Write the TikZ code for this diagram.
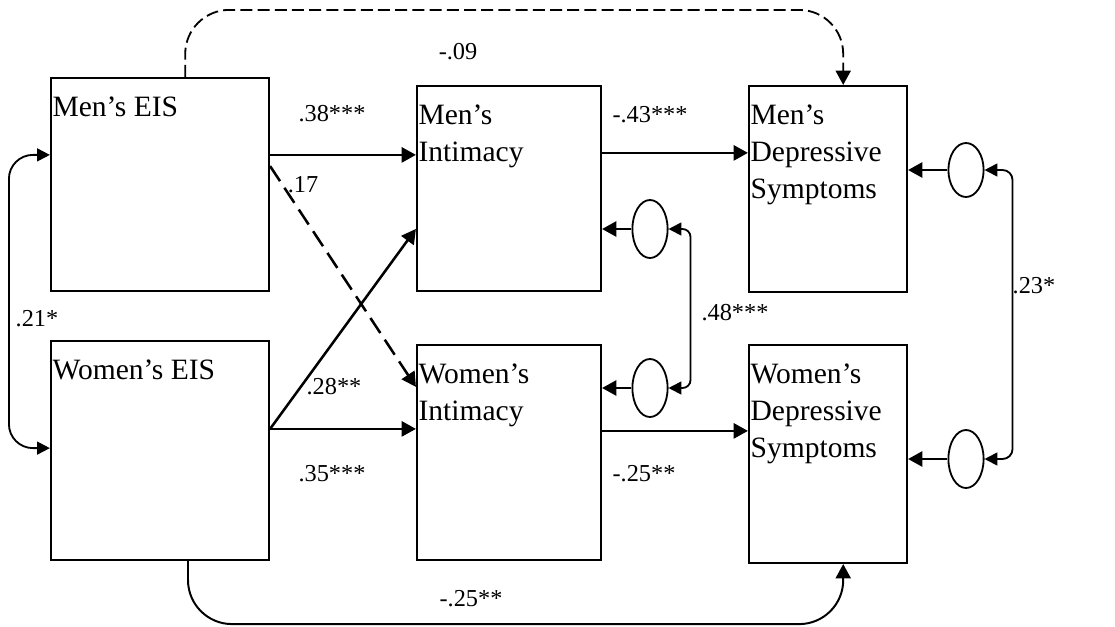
\documentclass[tikz,border=0pt]{standalone}
\usepackage{fontspec}
\setmainfont{Liberation Serif}
\usetikzlibrary{arrows.meta,positioning,shapes.geometric}

\begin{document}
\begin{tikzpicture}[
  x=0.025cm, y=-0.025cm,
  box/.style={rectangle, draw, line width=1.5pt, inner sep=0pt},
  boxtext/.style={anchor=north west, align=left, inner xsep=0.06cm, inner ysep=0.48cm,
                  font=\fontsize{21}{26.3}\selectfont},
  err/.style={ellipse, draw, line width=1.3pt, minimum width=0.88cm,
              minimum height=1.45cm, inner sep=0pt},
  coef/.style={font=\fontsize{17.3}{20}\selectfont, inner sep=0pt},
  arr/.style={-{Triangle[length=0.36cm, width=0.38cm]}, line width=1.8pt},
  dbl/.style={{Triangle[length=0.32cm, width=0.32cm]}-{Triangle[length=0.32cm, width=0.32cm]},
              line width=1.3pt},
  ns/.style={dash pattern=on 0.45cm off 0.2cm}
]
\useasboundingbox (0,0) rectangle (1115,626);

% observed variables
\node[box, minimum width=5.45cm, minimum height=5.325cm] (meis) at (160,184.5) {};
\node[box, minimum width=5.45cm, minimum height=5.475cm] (weis) at (160,450.5) {};
\node[box, minimum width=4.6cm,  minimum height=5.125cm] (mint) at (509,188.5) {};
\node[box, minimum width=4.6cm,  minimum height=5.375cm] (wint) at (509,452.5) {};
\node[box, minimum width=3.95cm, minimum height=5.15cm]  (mdep) at (828,189) {};
\node[box, minimum width=3.95cm, minimum height=5.45cm]  (wdep) at (828,454) {};

\node[boxtext] (meis-t) at (meis.north west) {Men's EIS};
\node[boxtext] (weis-t) at (weis.north west) {Women's EIS};
\node[boxtext] (mint-t) at (mint.north west) {Men's\\Intimacy};
\node[boxtext] (wint-t) at (wint.north west) {Women's\\Intimacy};
\node[boxtext] (mdep-t) at (mdep.north west) {Men's\\Depressive\\Symptoms};
\node[boxtext] (wdep-t) at (wdep.north west) {Women's\\Depressive\\Symptoms};

% residuals
\node[err] (emi) at (650,229) {};
\node[err] (ewi) at (650,388) {};
\node[err, minimum height=1.35cm] (emd) at (966,170) {};
\node[err] (ewd) at (966,459) {};

\draw[arr] (emi) -- (emi -| mint.east);
\draw[arr] (ewi) -- (ewi -| wint.east);
\draw[arr] (emd) -- (emd -| mdep.east);
\draw[arr] (ewd) -- (ewd -| wdep.east);

% covariances
\draw[dbl, rounded corners=0.2cm] (emi.east) -- ++(22,0) |- (ewi.east);
\draw[dbl, rounded corners=0.25cm] (emd.east) -- ++(28,0) |- (ewd.east);
\coordinate (c1) at ([yshift=0.74cm]meis.west);
\draw[dbl, rounded corners=0.6cm] (c1) -- ++(-41,0) |- ([yshift=0.06cm]weis.west);

% paths
\coordinate (p1) at ([yshift=0.74cm]meis.east);
\coordinate (p2) at ([yshift=0.46cm]meis.east);
\coordinate (p3) at ([yshift=0.54cm]weis.east);
\coordinate (p4) at ([yshift=0.89cm]mint.east);
\coordinate (p5) at ([yshift=0.54cm]wint.east);
\draw[arr] (p1) -- (p1 -| mint.west);
\draw[arr, ns] (p2) -- ([yshift=1.64cm]wint.west);
\draw[arr] (p3) -- ([yshift=-1.01cm]mint.west);
\draw[arr] (p3) -- (p3 -| wint.west);
\draw[arr] (p4) -- (p4 -| mdep.west);
\draw[arr] (p5) -- (p5 -| wdep.west);

% direct effects of EIS on depressive symptoms
\coordinate (t1) at ([xshift=0.63cm]meis.north);
\coordinate (t2) at ([xshift=0.38cm]mdep.north);
\draw[arr, line width=1.3pt, dash pattern=on 0.3cm off 0.13cm, rounded corners=1.1cm]
  (t1) -- ++(0,-67) -| (t2);
\coordinate (b1) at ([xshift=0.7cm]weis.south);
\coordinate (b2) at ([xshift=0.38cm]wdep.south);
\draw[arr, line width=1.4pt, rounded corners=1.1cm] (b1) -- ++(0,63) -| (b2);

% coefficients
\node[coef] (k1)  at (332,114) {.38***};
\node[coef] (k2)  at (303,185) {.17};
\node[coef] (k3)  at (458,52)  {-.09};
\node[coef] (k4)  at (650,115) {-.43***};
\node[coef] (k5)  at (334,387) {.28**};
\node[coef] (k6)  at (332,474) {.35***};
\node[coef] (k7)  at (644,474) {-.25**};
\node[coef] (k8)  at (471,599) {-.25**};
\node[coef] (k9)  at (735,313) {.48***};
\node[coef] (k10) at (1034,286) {.23*};
\node[coef] (k11) at (37,319)  {.21*};
\end{tikzpicture}
\end{document}
